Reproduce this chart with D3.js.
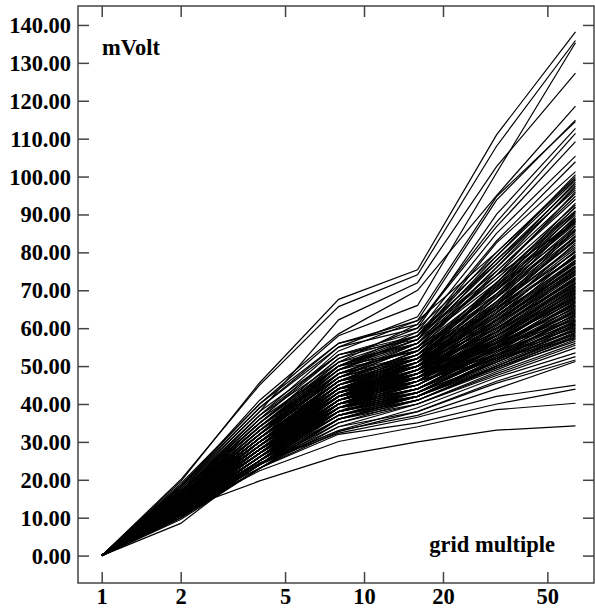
<!DOCTYPE html>
<html>
<head>
<meta charset="utf-8">
<script src="https://cdn.jsdelivr.net/npm/d3@7"></script>
<style>
  body { margin: 0; background: #fff; }
  text { font-family: "Liberation Serif", "Times New Roman", serif; font-weight: bold; }
</style>
</head>
<body>
<script>
(function () {
  const gridMultiples = [1, 2, 4, 8, 16, 32, 64];
  const xTicks = [1, 2, 5, 10, 20, 50];
  const yTicks = [0, 10, 20, 30, 40, 50, 60, 70, 80, 90, 100, 110, 120, 130, 140];
  const yLabel = 'mVolt';
  const xLabel = 'grid multiple';

  // mVolt at grid multiple 2, 4, 8, 16, 32, 64 (all start at 0 at multiple 1)
  const traces = [
    [19.5, 45.6, 67.6, 75.4, 111, 138.2],
    [20, 45.0, 65.7, 74.1, 108, 135.9],
    [18.5, 40, 58, 66, 101, 135.3],
    [17.5, 38, 62.2, 72, 102.6, 127.3],
    [18, 41, 58.5, 70, 95, 118.6],
    [17, 36, 54, 62, 93.8, 114.9],
    [16.5, 37, 55, 63, 94.7, 114.5],
    [17, 35, 52, 60, 90, 112.7],
    [16, 34, 51, 61, 88, 111.4],
    [18, 39, 56, 61, 86.8, 109.2],
    [15.5, 33, 50, 59, 85, 105.4],
    [16, 35, 52, 58, 83, 103.9],
    [17, 34, 49, 57, 82.5, 101.3],
    [15, 32, 49, 58, 80, 100],
    [16.5, 36, 53, 57, 79, 99.1],
    [15, 31, 48, 56, 78, 98],
    [14.5, 32, 50, 57, 77, 97],
    [16, 33, 47, 55, 76, 95.5],
    [15, 30, 46, 54, 75, 94],
    [14, 31, 48, 55, 74, 92.5],
    [17, 37, 51, 56, 73, 91],
    [15.5, 32, 47, 53, 72, 90],
    [13.5, 30, 46, 54, 71.5, 89],
    [14, 29, 45, 52, 71, 88.5],
    [16, 33, 48, 53, 70, 88],
    [15, 31, 46, 52, 70.5, 87.5],
    [13, 28, 44, 51, 69, 87],
    [14.5, 30, 45, 52, 68, 86],
    [16, 34, 49, 54, 68.5, 85],
    [13.5, 29, 44, 50, 67, 84],
    [15, 31, 46, 51, 66.5, 83],
    [12.5, 27, 43, 50, 66, 82],
    [14, 30, 45, 51, 65, 81],
    [15.5, 32, 47, 52, 65.5, 80],
    [13, 28, 43, 49, 64, 79],
    [14, 29, 44, 50, 64.5, 78.5],
    [12, 27, 42, 49, 63, 78],
    [15, 31, 45, 50, 63.5, 77.5],
    [13.5, 29, 43, 48, 62.5, 77],
    [11.5, 26, 41, 48, 62, 76.5],
    [14.5, 30, 44, 49, 61.5, 76],
    [13, 28, 42, 48, 61, 75.5],
    [16, 32, 46, 50, 62, 75],
    [12, 27, 41, 47, 60.5, 74.5],
    [14, 29, 43, 48, 60, 74],
    [13, 28, 42, 47, 59.5, 73.5],
    [11, 25, 40, 47, 59, 73],
    [15, 30, 44, 48, 60, 72.5],
    [12.5, 27, 41, 46, 58.5, 72],
    [14, 29, 42, 47, 58, 71.5],
    [13, 27, 41, 46, 58, 71],
    [11.5, 26, 40, 46, 57.5, 70.5],
    [14.5, 30, 43, 47, 57, 70],
    [12, 26, 40, 45, 57, 69.5],
    [13.5, 28, 41, 46, 56.5, 69],
    [10.5, 24, 39, 45, 56, 68.5],
    [15, 31, 44, 47, 56.5, 68],
    [12.5, 27, 40, 45, 55.5, 67.5],
    [13, 28, 41, 45, 55, 67],
    [11, 25, 39, 44, 55, 66.5],
    [14, 29, 42, 46, 55.5, 66],
    [12, 26, 39, 44, 54.5, 65.5],
    [13.5, 27, 40, 44, 54, 65],
    [10, 24, 38, 44, 54, 64.5],
    [14.5, 30, 42, 45, 54.5, 64],
    [12.5, 26, 39, 43, 53.5, 63.5],
    [11.5, 25, 38, 43, 53, 63],
    [13, 27, 40, 44, 53, 62.5],
    [10.5, 24, 37, 43, 52.5, 62],
    [14, 28, 40, 44, 52, 61.5],
    [12, 26, 38, 42, 52, 61],
    [11, 25, 37, 42, 51.5, 60.5],
    [13.5, 27, 39, 43, 51, 60],
    [9.5, 23, 36, 42, 51, 59.5],
    [12.5, 26, 38, 42, 50.5, 59],
    [11.5, 24, 36, 41, 50, 58.5],
    [13, 27, 38, 42, 50, 58],
    [10, 23, 35, 41, 49.5, 57.5],
    [12, 25, 37, 41, 49, 57],
    [14, 28, 39, 42, 49.5, 56.5],
    [11, 24, 35, 40, 48.5, 56],
    [10.5, 23, 34, 40, 48, 55.5],
    [12.5, 25, 36, 40, 47.5, 54.8],
    [8.5, 24.4, 33, 39, 47, 53.5],
    [11.5, 24, 34, 38, 46, 52.5],
    [10, 23.1, 32.7, 38, 45.5, 51.6],
    [12, 24, 33, 37, 44, 51.2],
    [12, 24.4, 32.3, 36.5, 42, 45.0],
    [12.5, 23.1, 32, 35, 40, 43.9],
    [11.5, 22.4, 30.1, 34, 38.5, 40.2],
    [12, 19.7, 26.3, 30, 33.1, 34.2],
    [13, 28, 42, 48, 62, 79.5],
    [14, 30, 44, 50, 64, 82.5],
    [12, 27, 41, 47, 61, 77.8],
    [15, 31, 45, 50, 65, 84.5],
    [13.5, 29, 43, 49, 63, 80.5],
    [11.5, 26, 40, 46, 59, 75.2],
    [14.5, 30, 43, 48, 61, 74.8],
    [12.5, 27, 41, 46, 58, 71.8],
    [13, 28, 41, 46, 57, 70.8],
    [11, 25, 39, 45, 56, 69.8],
    [14, 29, 42, 46, 56, 68.8],
    [12, 26, 39, 44, 55, 67.8],
    [13.5, 28, 40, 45, 54.5, 66.8],
    [10.5, 24, 38, 43, 53.5, 65.8],
    [12.5, 26, 38, 43, 53, 64.8],
    [11.5, 25, 37, 42, 52, 63.8],
    [13, 27, 39, 43, 52.5, 62.8],
    [10, 23, 36, 42, 51.5, 61.8],
    [12, 25, 37, 42, 51, 60.8],
    [14, 28, 40, 43, 51, 59.8],
    [11, 24, 36, 41, 50, 58.8],
    [12.5, 26, 37, 41, 49.5, 57.8],
    [15, 32, 46, 51, 66, 85.8],
    [16, 34, 48, 52, 67, 86.8],
    [13, 29, 44, 50, 68, 88.8],
    [14.5, 31, 46, 52, 69, 89.5],
    [12, 28, 43, 49, 66, 83.5],
    [17, 36, 50, 54, 70, 90.5],
    [15.5, 33, 47, 53, 71, 92],
    [18, 38, 53, 58, 74, 96],
    [16.5, 35, 50, 56, 76, 97.5],
    [19, 40, 56, 62, 80, 99.5],
    [14, 30, 45, 51, 72, 93],
    [14, 31, 46, 54, 70, 86.2],
    [13, 29, 45, 53, 68, 84.2],
    [15, 32, 47, 55, 69, 85.5],
    [12.5, 28, 44, 52, 67, 83.2],
    [14, 30, 45, 53, 66, 81.5],
    [13.5, 29, 44, 52, 65, 80.2],
    [12, 27, 42, 51, 64, 79.2],
    [14.5, 31, 46, 53, 65, 78.8],
    [13, 28, 43, 51, 63, 77.2],
    [12, 27, 42, 50, 62, 76.2],
    [15, 31, 45, 52, 62, 75.8],
    [13, 28, 43, 50, 61, 74.2],
    [11.5, 26, 41, 49, 60, 73.2],
    [14, 30, 44, 51, 60, 72.8],
    [12.5, 27, 42, 49, 59, 72.2],
    [13.5, 29, 43, 50, 59, 71.2],
    [11, 25, 40, 48, 58, 70.2],
    [14.5, 30, 44, 50, 58, 69.2],
    [12, 26, 41, 48, 57, 68.2],
    [13, 28, 42, 49, 57, 67.2],
    [10.5, 24, 39, 47, 56, 66.2],
    [14, 29, 43, 49, 56, 65.2],
    [12.5, 27, 41, 48, 55, 64.2],
    [11, 25, 40, 47, 55, 63.2],
    [13.5, 28, 42, 48, 55, 62.2],
    [12, 26, 40, 47, 54, 61.2],
    [10, 24, 38, 46, 53, 60.2],
    [13, 27, 41, 47, 53, 59.2],
    [11.5, 25, 39, 46, 52, 58.2],
    [12.5, 26, 40, 46, 52, 57.2],
    [16, 34, 50, 57, 73, 91.8],
    [15, 33, 49, 56, 72, 90.8],
    [16.5, 35, 51, 58, 75, 94.8],
    [17.5, 37, 53, 59, 77, 98.5],
    [14.5, 32, 48, 55, 71, 88.2],
    [13, 30, 47, 56, 74, 87.8],
    [15.5, 34, 50, 58, 78, 96.5],
    [18.5, 39, 55, 60, 79, 100.5]
  ];

  const width = 595;
  const height = 608;
  const left = 78, right = 594, top = 6, bottom = 583;
  const fontSize = 22.5;

  const x = d3.scaleLog()
    .domain([0.812, 75.3])
    .range([left, right]);

  const y = d3.scaleLinear()
    .domain([-7.23, 145.0])
    .range([bottom, top]);

  const svg = d3.select('body').append('svg')
    .attr('width', width)
    .attr('height', height);

  const line = d3.line()
    .x((d, i) => x(gridMultiples[i]))
    .y(d => y(d));

  svg.append('g')
    .selectAll('path')
    .data(traces.map(t => [0].concat(t)))
    .enter()
    .append('path')
    .attr('d', line)
    .attr('fill', 'none')
    .attr('stroke', '#000')
    .attr('stroke-width', 1.2);

  const tick = 11;

  const yAxis = svg.append('g')
    .attr('transform', `translate(${left},0)`)
    .call(d3.axisLeft(y).tickValues(yTicks).tickSize(-tick).tickPadding(7)
      .tickFormat(d3.format('.2f')));

  svg.append('g')
    .attr('transform', `translate(${right},0)`)
    .call(d3.axisRight(y).tickValues(yTicks).tickSize(-tick).tickFormat(''));

  const xAxis = svg.append('g')
    .attr('transform', `translate(0,${bottom})`)
    .call(d3.axisBottom(x).tickValues(xTicks).tickSize(-tick).tickPadding(5)
      .tickFormat(d3.format('d')));

  svg.append('g')
    .attr('transform', `translate(0,${top})`)
    .call(d3.axisTop(x).tickValues(xTicks).tickSize(-tick).tickFormat(''));

  svg.selectAll('.domain').remove();
  svg.selectAll('.tick line')
    .attr('stroke', '#444')
    .attr('stroke-width', 1.5);

  yAxis.selectAll('text')
    .attr('font-size', fontSize)
    .attr('font-family', '"Liberation Serif", serif')
    .attr('font-weight', 'bold')
    .attr('fill', '#000')
    .attr('dy', '0.33em');

  xAxis.selectAll('text')
    .attr('font-size', fontSize)
    .attr('font-family', '"Liberation Serif", serif')
    .attr('font-weight', 'bold')
    .attr('fill', '#000')
    .attr('dy', '0.71em');

  svg.append('rect')
    .attr('x', left)
    .attr('y', top)
    .attr('width', right - left)
    .attr('height', bottom - top)
    .attr('fill', 'none')
    .attr('stroke', '#444')
    .attr('stroke-width', 1.5);

  svg.append('text')
    .attr('x', 102)
    .attr('y', 55)
    .attr('font-size', fontSize)
    .text(yLabel);

  svg.append('text')
    .attr('x', 555)
    .attr('y', 552)
    .attr('text-anchor', 'end')
    .attr('font-size', fontSize)
    .text(xLabel);
})();
</script>
</body>
</html>
